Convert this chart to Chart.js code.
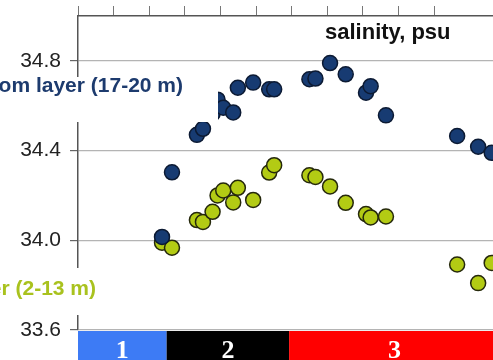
<!DOCTYPE html>
<html>
<head>
<meta charset="utf-8">
<script src="https://cdn.jsdelivr.net/npm/chart.js@4/dist/chart.umd.min.js"></script>
<style>
  html, body { margin: 0; padding: 0; background: #ffffff; overflow: hidden; }
  #wrap { width: 493px; height: 360px; }
  canvas { display: block; }
</style>
</head>
<body>
<div id="wrap"><canvas id="c" width="493" height="360"></canvas></div>
<script>
// Station positions along the section (axis units = tick intervals)
const stations = [2.36, 2.64, 3.34, 3.51, 3.78, 3.92, 4.08, 4.36, 4.49, 4.92, 5.37, 5.51,
                  6.50, 6.67, 7.08, 7.52, 8.09, 8.22, 8.65, 10.65, 11.24, 11.62];
// Salinity (psu) in the bottom layer, 17-20 m
const bottomSalinity = [34.015, 34.303, 34.47, 34.497, 34.564, 34.627, 34.591, 34.570, 34.680, 34.703, 34.673, 34.673,
                        34.718, 34.721, 34.790, 34.740, 34.658, 34.687, 34.557, 34.465, 34.417, 34.390];
// Salinity (psu) in the surface layer, 2-13 m
const surfaceSalinity = [33.989, 33.967, 34.090, 34.082, 34.127, 34.200, 34.222, 34.169, 34.234, 34.180, 34.302, 34.335,
                         34.290, 34.282, 34.240, 34.167, 34.117, 34.102, 34.106, 33.892, 33.809, 33.899];
// Salinity tick labels
const yTicks = [33.6, 34.0, 34.4, 34.8];
// Zones along the section
const zoneEdges = [0, 2.49, 5.93, 11.85];
const zoneNames = ['1', '2', '3'];
const seriesNames = ['Bottom layer (17-20 m)', 'Surface layer (2-13 m)'];
const chartTitle = 'salinity, psu';

const X_MAX = 11.657;
const FONT = "'Liberation Sans', Arial, sans-serif";

const toPoints = (ys) => stations.map((x, i) => ({ x, y: ys[i] }));

// White page background
const bgPlugin = {
  id: 'bg',
  beforeDraw(chart) {
    const ctx = chart.ctx;
    ctx.save();
    ctx.fillStyle = '#ffffff';
    ctx.fillRect(0, 0, chart.width, chart.height);
    ctx.restore();
  }
};

// Zone band under the plot, title, and series labels on the left
const decorPlugin = {
  id: 'decor',
  afterDatasetsDraw(chart) {
    const ctx = chart.ctx;
    const xs = chart.scales.x, ys = chart.scales.y;
    const area = chart.chartArea;
    ctx.save();

    // zone band
    const zoneColors = ['#3d7bf5', '#000000', '#ff0000'];
    const bandTop = area.bottom + 1;
    for (let i = 0; i < zoneNames.length; i++) {
      const x0 = xs.getPixelForValue(zoneEdges[i]);
      const x1 = xs.getPixelForValue(zoneEdges[i + 1]);
      ctx.fillStyle = zoneColors[i];
      ctx.fillRect(x0, bandTop, x1 - x0, chart.height - bandTop);
      ctx.fillStyle = '#ffffff';
      ctx.font = "bold 26px 'Liberation Serif', 'Times New Roman', serif";
      ctx.textAlign = 'center';
      ctx.textBaseline = 'alphabetic';
      ctx.fillText(zoneNames[i], (x0 + x1) / 2, 358);
    }

    // title
    ctx.fillStyle = '#111111';
    ctx.font = 'bold 22px ' + FONT;
    ctx.textAlign = 'left';
    ctx.textBaseline = 'middle';
    ctx.fillText(chartTitle, 325, 33);

    // series labels with white backing
    const labels = [
      { text: seriesNames[0], value: 34.686, right: 183, color: '#1d3b6e', box: [0, 77, 218, 45] },
      { text: seriesNames[1], value: 33.781, right: 96, color: '#a9c21e', box: [0, 268, 130, 47] }
    ];
    labels.forEach(l => {
      ctx.fillStyle = '#ffffff';
      ctx.fillRect(l.box[0], l.box[1], l.box[2], l.box[3]);
      ctx.fillStyle = l.color;
      ctx.font = 'bold 21px ' + FONT;
      ctx.textAlign = 'right';
      ctx.textBaseline = 'middle';
      ctx.fillText(l.text, l.right, ys.getPixelForValue(l.value));
    });
    ctx.restore();
  }
};

new Chart(document.getElementById('c'), {
  type: 'scatter',
  data: {
    datasets: [
      {
        label: seriesNames[0],
        data: toPoints(bottomSalinity),
        pointRadius: 7.5,
        pointHoverRadius: 7.5,
        backgroundColor: '#173b72',
        borderColor: '#0c1a33',
        borderWidth: 1.5
      },
      {
        label: seriesNames[1],
        data: toPoints(surfaceSalinity),
        pointRadius: 7.5,
        pointHoverRadius: 7.5,
        backgroundColor: '#b3cb14',
        borderColor: '#25280c',
        borderWidth: 1.5
      }
    ]
  },
  options: {
    responsive: false,
    animation: false,
    events: [],
    layout: { autoPadding: false, padding: { top: 0, right: 0, bottom: 30, left: 0 } },
    plugins: {
      legend: { display: false },
      tooltip: { enabled: false },
      title: { display: false }
    },
    scales: {
      x: {
        type: 'linear',
        position: 'top',
        min: 0,
        max: X_MAX,
        ticks: { display: false, stepSize: 1 },
        grid: {
          drawOnChartArea: false,
          drawTicks: true,
          tickLength: 10,
          color: '#777777',
          lineWidth: 1
        },
        border: { display: true, color: '#555555', width: 1.5 },
        afterFit(scale) {
          scale.height = 16;
          scale.paddingLeft = 0; scale.paddingRight = 0;
          scale.paddingTop = 0; scale.paddingBottom = 0;
        }
      },
      y: {
        type: 'linear',
        position: 'left',
        min: 33.6,
        max: 35.0,
        afterBuildTicks(scale) {
          scale.ticks = yTicks.map(v => ({ value: v }));
        },
        ticks: {
          color: '#222222',
          font: { family: FONT, size: 21 },
          padding: 9,
          callback: (v) => Number(v).toFixed(1)
        },
        grid: {
          color: '#b4b4b4',
          lineWidth: 1.2,
          drawTicks: true,
          tickLength: 8,
          tickColor: '#666666'
        },
        border: { display: true, color: '#555555', width: 1.5 },
        afterFit(scale) {
          scale.width = 78;
          scale.paddingLeft = 0; scale.paddingRight = 0;
          scale.paddingTop = 0; scale.paddingBottom = 0;
        }
      }
    }
  },
  plugins: [bgPlugin, decorPlugin]
});
</script>
</body>
</html>
